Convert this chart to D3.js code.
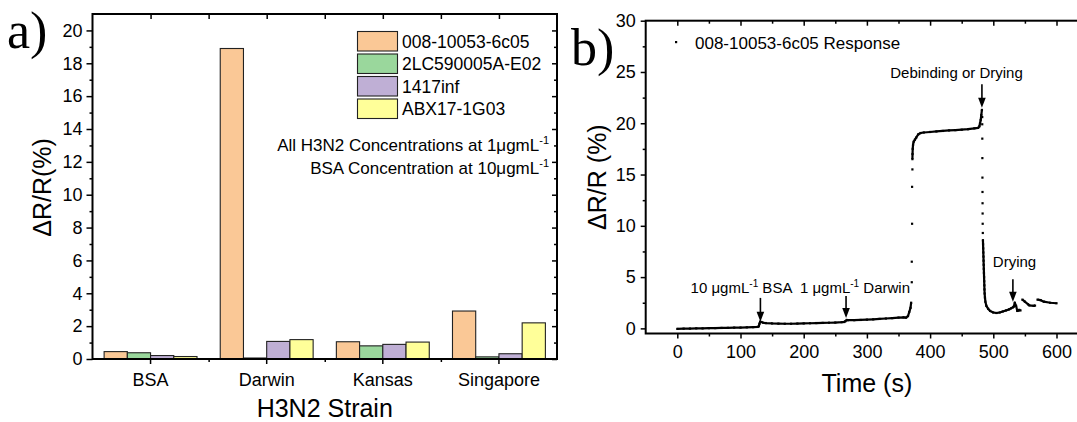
<!DOCTYPE html>
<html>
<head>
<meta charset="utf-8">
<script src="https://cdn.jsdelivr.net/npm/d3@7"></script>
<style>
  html, body { margin: 0; padding: 0; background: #fff; }
  svg { display: block; font-family: "Liberation Sans", Arial, sans-serif; }
</style>
</head>
<body>
<svg id="chart" width="1077" height="422"></svg>
<script>
// ---- Panel a: response of each antibody to each strain ----
const categories = ["BSA", "Darwin", "Kansas", "Singapore"];
const seriesNames = ["008-10053-6c05", "2LC590005A-E02", "1417inf", "ABX17-1G03"];
const resp008 = [0.45, 18.9, 1.05, 2.92];
const resp2LC = [0.38, 0.06, 0.80, 0.13];
const resp1417 = [0.21, 1.07, 0.89, 0.32];
const respABX = [0.15, 1.18, 1.03, 2.20];
const barColors = ["#FAC896", "#9AD79C", "#BFAFD5", "#FFFF99"];
const yTicksA = [0, 2, 4, 6, 8, 10, 12, 14, 16, 18, 20];

// ---- Panel b: time trace of the 008-10053-6c05 sensor ----
const timeS = [
  0, 10, 20, 30, 40, 50, 60, 70, 80, 90, 100, 110, 120, 127, 129, 130, 131, 133, 136, 140,
  150, 160, 170, 180, 190, 200, 210, 220, 230, 240, 250, 260, 264, 266, 268, 270, 280, 290,
  300, 310, 320, 330, 340, 350, 358, 362, 365, 367, 369, 370,
  371, 371, 371.5, 371.5, 372, 372, 372.2, 372.5, 373, 374, 376, 378, 381, 385, 390, 400,
  410, 420, 430, 440, 450, 460, 470, 476, 478, 479, 480, 481, 482,
  482.5, 482.5, 482.6, 482.7, 482.8, 482.9, 483, 483.1, 483.2, 483.4,
  483.6, 483.8, 484, 484.2, 484.4, 484.6, 484.8, 485, 485.2, 485.4, 485.6, 485.8, 486, 486.3,
  486.8, 487.5, 489, 492, 495, 500, 505, 510, 515, 520, 525, 528, 531, 532, 533, 534, 536,
  538, 540, 541, 543, 546, 550, 555, 557, 564, 566, 570, 575, 580, 590, 600
];
const deltaR = [
  -0.05, -0.03, -0.02, 0.0, 0.0, 0.02, 0.03, 0.04, 0.05, 0.07, 0.08, 0.10, 0.12, 0.14, 0.2, 0.45, 0.65, 0.62, 0.55, 0.52,
  0.48, 0.46, 0.45, 0.45, 0.47, 0.48, 0.50, 0.52, 0.53, 0.55, 0.57, 0.60, 0.62, 0.70, 0.82, 0.80, 0.80, 0.82,
  0.85, 0.88, 0.92, 0.96, 1.00, 1.05, 1.08, 1.05, 1.20, 1.60, 2.00, 2.50,
  4.5, 6.5, 10.2, 13.8, 15.5, 16.5, 17.0, 17.5, 17.9, 18.2, 18.4, 18.6, 18.9, 19.05, 19.1, 19.15,
  19.2, 19.25, 19.3, 19.33, 19.37, 19.42, 19.5, 19.55, 19.7, 20.0, 20.3, 20.8, 21.3,
  20.6, 19.9, 18.5, 16.6, 14.7, 13.3, 12.2, 11.2, 10.2, 9.3,
  8.6, 8.2, 7.8, 7.4, 7.0, 6.6, 6.2, 5.8, 5.4, 5.0, 4.6, 4.2, 3.8, 3.4,
  3.0, 2.6, 2.2, 1.9, 1.7, 1.55, 1.5, 1.55, 1.65, 1.75, 1.85, 1.95, 2.05, 2.1, 2.2, 2.5, 2.2, 1.7, 1.75,
  1.8, 1.75, 2.8, 2.6, 2.35, 2.25, 2.2, 2.22, 2.8, 2.75, 2.6, 2.5, 2.45, 2.45, 2.45
];
const xTicksB = [0, 100, 200, 300, 400, 500, 600];
const yTicksB = [0, 5, 10, 15, 20, 25, 30];

// annotated events on the trace: arrow time, arrow start/end values, label
const eventTimes = [131.5, 267, 482, 531];
const eventFrom = [2.97, 3.16, 23.8, 4.8];
const eventTo = [0.65, 1.0, 21.5, 2.6];

const svg = d3.select("#chart");
const FONT_TICK = 18;
const FONT_TITLE = 25;

// ================= Panel a =================
const A = { left: 92.5, right: 557, top: 14, bottom: 359 };
const xA = d3.scaleBand().domain(categories).range([A.left, A.right]).padding(0);
const groupW = xA.step() * 0.8;
const xInner = d3.scaleBand().domain(seriesNames).range([-groupW / 2, groupW / 2]).padding(0);
const yA = d3.scaleLinear().domain([0, 21]).range([A.bottom, A.top]);
const seriesValues = [resp008, resp2LC, resp1417, respABX];

const gA = svg.append("g");
seriesNames.forEach((name, si) => {
  gA.append("g").selectAll("rect")
    .data(categories.map((c, ci) => ({ c, v: seriesValues[si][ci] })))
    .join("rect")
    .attr("x", d => xA(d.c) + xA.bandwidth() / 2 + xInner(name))
    .attr("width", xInner.bandwidth())
    .attr("y", d => yA(d.v))
    .attr("height", d => yA(0) - yA(d.v))
    .attr("fill", barColors[si])
    .attr("stroke", "#222")
    .attr("stroke-width", 1.1);
});

function styleAxis(g, labels) {
  g.select(".domain").remove();
  g.selectAll(".tick line").attr("stroke", "#000").attr("stroke-width", 1.5);
  if (!labels) g.selectAll(".tick text").remove();
  else g.selectAll(".tick text").attr("fill", "#000").attr("font-size", FONT_TICK)
        .attr("font-family", "Liberation Sans, Arial, sans-serif");
}

const catCenters = categories.map(c => xA(c) + xA.bandwidth() / 2);
const catEdges = categories.slice(1).map(c => xA(c));
const xCenterScale = d3.scaleLinear().domain([A.left, A.right]).range([A.left, A.right]);

// left axis
gA.append("g").attr("transform", `translate(${A.left},0)`)
  .call(d3.axisLeft(yA).tickValues(yTicksA).tickSize(6).tickPadding(4).tickFormat(d3.format("d")))
  .call(g => styleAxis(g, true));
gA.append("g").attr("transform", `translate(${A.left},0)`)
  .call(d3.axisLeft(yA).tickValues(d3.range(1, 21, 2)).tickSize(3))
  .call(g => styleAxis(g, false));
// right axis, ticks pointing inward
gA.append("g").attr("transform", `translate(${A.right},0)`)
  .call(d3.axisLeft(yA).tickValues(yTicksA).tickSize(5))
  .call(g => styleAxis(g, false));
gA.append("g").attr("transform", `translate(${A.right},0)`)
  .call(d3.axisLeft(yA).tickValues(d3.range(1, 21, 2)).tickSize(3))
  .call(g => styleAxis(g, false));
// bottom axis
gA.append("g").attr("transform", `translate(0,${A.bottom})`)
  .call(d3.axisBottom(xA).tickSize(5).tickPadding(9))
  .call(g => styleAxis(g, true));
gA.append("g").attr("transform", `translate(0,${A.bottom})`)
  .call(d3.axisBottom(xCenterScale).tickValues(catEdges).tickSize(3))
  .call(g => styleAxis(g, false));
// top axis, ticks pointing inward
gA.append("g").attr("transform", `translate(0,${A.top})`)
  .call(d3.axisBottom(xCenterScale).tickValues(catCenters.concat(catEdges)).tickSize(5))
  .call(g => styleAxis(g, false));
// frame
gA.append("rect").attr("x", A.left).attr("y", A.top)
  .attr("width", A.right - A.left).attr("height", A.bottom - A.top)
  .attr("fill", "none").attr("stroke", "#000").attr("stroke-width", 2);

// axis titles
gA.append("text").attr("transform", `translate(51,${(A.top + A.bottom) / 2 + 1}) rotate(-90)`)
  .attr("text-anchor", "middle").attr("font-size", FONT_TITLE).text("ΔR/R(%)");
gA.append("text").attr("x", (A.left + A.right) / 2).attr("y", 417)
  .attr("text-anchor", "middle").attr("font-size", FONT_TITLE).text("H3N2 Strain");
gA.append("text").attr("x", 7).attr("y", 48)
  .attr("font-family", "Liberation Serif, Times New Roman, serif").attr("font-size", 52).text("a)");

// legend
const leg = gA.append("g");
seriesNames.forEach((name, i) => {
  const top = 31.5 + i * 22.5;
  leg.append("rect").attr("x", 357.5).attr("y", top).attr("width", 40).attr("height", 19.5)
    .attr("fill", barColors[i]).attr("stroke", "#222").attr("stroke-width", 1.1);
  leg.append("text").attr("x", 402).attr("y", top + 16).attr("font-size", 17.5).text(name);
});

// concentration notes
function noteWithExp(g, x, y, main, exp) {
  const t = g.append("text").attr("x", x).attr("y", y).attr("text-anchor", "end").attr("font-size", 17);
  t.append("tspan").text(main);
  t.append("tspan").attr("dy", -7).attr("font-size", 11).text("-1");
  return t;
}
noteWithExp(gA, 549, 151, "All H3N2 Concentrations at 1μgmL");
noteWithExp(gA, 549, 174, "BSA Concentration at 10μgmL");

// ================= Panel b =================
const B = { left: 645.7, top: 20.7, bottom: 333.5 };
const xB = d3.scaleLinear().domain([-50, 650]).range([B.left, B.left + 700 * 0.632]);
const yB = d3.scaleLinear().domain([-0.5, 30]).range([B.bottom, B.top]);
const gB = svg.append("g");
const B_right = xB(650);

gB.append("g").attr("transform", `translate(${B.left},0)`)
  .call(d3.axisLeft(yB).tickValues(yTicksB).tickSize(5).tickPadding(5))
  .call(g => styleAxis(g, true));
gB.append("g").attr("transform", `translate(${B.left},0)`)
  .call(d3.axisLeft(yB).tickValues(d3.range(2.5, 30, 5)).tickSize(3))
  .call(g => styleAxis(g, false));
gB.append("g").attr("transform", `translate(0,${B.bottom})`)
  .call(d3.axisBottom(xB).tickValues(xTicksB).tickSize(5).tickPadding(7).tickFormat(d3.format("d")))
  .call(g => styleAxis(g, true));
gB.append("g").attr("transform", `translate(0,${B.bottom})`)
  .call(d3.axisBottom(xB).tickValues(d3.range(50, 651, 100)).tickSize(3))
  .call(g => styleAxis(g, false));
gB.append("g").attr("transform", `translate(0,${B.top})`)
  .call(d3.axisBottom(xB).tickValues(xTicksB).tickSize(5))
  .call(g => styleAxis(g, false));
gB.append("g").attr("transform", `translate(0,${B.top})`)
  .call(d3.axisBottom(xB).tickValues(d3.range(50, 651, 100)).tickSize(3))
  .call(g => styleAxis(g, false));
gB.append("rect").attr("x", B.left).attr("y", B.top)
  .attr("width", B_right - B.left).attr("height", B.bottom - B.top)
  .attr("fill", "none").attr("stroke", "#000").attr("stroke-width", 2);

gB.append("text").attr("transform", `translate(606,${(B.top + B.bottom) / 2}) rotate(-90)`)
  .attr("text-anchor", "middle").attr("font-size", FONT_TITLE).text("ΔR/R (%)");
gB.append("text").attr("x", (B.left + B_right) / 2).attr("y", 392)
  .attr("text-anchor", "middle").attr("font-size", FONT_TITLE).text("Time (s)");
gB.append("text").attr("x", 571).attr("y", 65)
  .attr("font-family", "Liberation Serif, Times New Roman, serif").attr("font-size", 52).text("b)");

// trace: dense runs are joined, sparse jumps stay as single points
const pts = timeS.map((t, i) => ({ x: xB(t), y: yB(deltaR[i]) }));
const runs = [];
let cur = [pts[0]];
for (let i = 1; i < pts.length; i++) {
  const p = pts[i - 1], q = pts[i];
  if (Math.abs(q.y - p.y) > 5.5 || Math.abs(q.x - p.x) > 8) { runs.push(cur); cur = []; }
  cur.push(q);
}
runs.push(cur);
const line = d3.line().x(d => d.x).y(d => d.y);
gB.append("g").selectAll("path").data(runs.filter(r => r.length > 1)).join("path")
  .attr("d", line).attr("fill", "none").attr("stroke", "#000").attr("stroke-width", 2.2)
  .attr("stroke-linejoin", "round");
gB.append("g").selectAll("rect").data(pts).join("rect")
  .attr("x", d => d.x - 1.1).attr("y", d => d.y - 1.1).attr("width", 2.2).attr("height", 2.2)
  .attr("fill", "#000");

// legend
gB.append("rect").attr("x", 675).attr("y", 41).attr("width", 2.2).attr("height", 2.2).attr("fill", "#000");
gB.append("text").attr("x", 695).attr("y", 49).attr("font-size", 17).text("008-10053-6c05 Response");

// event arrows
const arrows = gB.append("g");
eventTimes.forEach((t, i) => {
  const x = xB(t), y1 = yB(eventFrom[i]), y2 = yB(eventTo[i]);
  arrows.append("line").attr("x1", x).attr("x2", x).attr("y1", y1).attr("y2", y2 - 8)
    .attr("stroke", "#000").attr("stroke-width", 1.6);
  arrows.append("path").attr("d", `M${x - 3.8},${y2 - 10} L${x + 3.8},${y2 - 10} L${x},${y2} Z`).attr("fill", "#000");
});
function eventLabel(x, y, main, exp, tail) {
  const t = gB.append("text").attr("x", x).attr("y", y).attr("text-anchor", "middle").attr("font-size", 15);
  t.append("tspan").text(main);
  if (exp) {
    t.append("tspan").attr("dy", -6).attr("font-size", 10).text(exp);
    t.append("tspan").attr("dy", 6).text(tail);
  }
}
eventLabel(741.5, 292.5, "10 μgmL", "-1", " BSA");
eventLabel(855, 292.5, "1 μgmL", "-1", " Darwin");
eventLabel(956.5, 78, "Debinding or Drying");
eventLabel(1014.5, 266.5, "Drying");
</script>
</body>
</html>
